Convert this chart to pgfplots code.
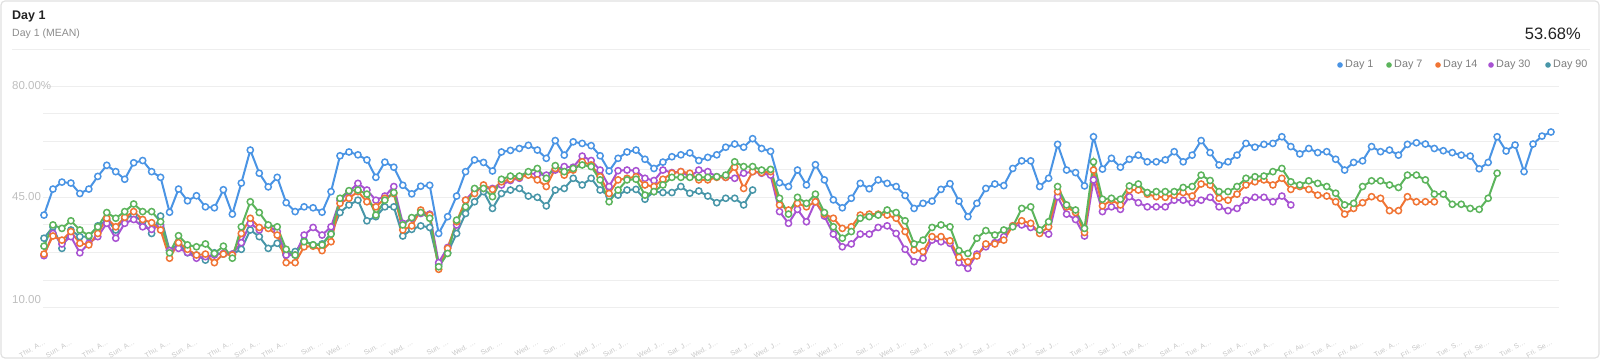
\documentclass[border=0pt]{standalone}
\usepackage{fontspec}
\setmainfont{Liberation Sans}
\usepackage{pgfplots}
\pgfplotsset{compat=1.18}
\usepackage{pgfplotstable}
\definecolor{cA}{RGB}{74,148,228}
\definecolor{cB}{RGB}{92,180,92}
\definecolor{cC}{RGB}{240,116,52}
\definecolor{cD}{RGB}{168,82,210}
\definecolor{cE}{RGB}{72,150,168}
\definecolor{gridc}{RGB}{238,238,238}
\definecolor{labc}{RGB}{190,190,190}
\definecolor{xlabc}{RGB}{198,198,198}
\definecolor{legc}{RGB}{125,125,125}
\definecolor{titc}{RGB}{34,34,34}
\definecolor{subc}{RGB}{140,140,140}
\definecolor{borderc}{RGB}{225,225,225}

\pgfplotstableread[row sep=\\]{v\\39.3\\47.5\\49.7\\49.4\\46.1\\47.5\\51.5\\55.0\\53.0\\50.6\\55.8\\56.5\\53.0\\51.2\\40.2\\47.5\\43.8\\45.4\\41.9\\41.6\\47.3\\39.6\\49.4\\59.8\\52.5\\48.2\\51.2\\43.2\\40.4\\41.9\\41.6\\40.2\\46.7\\58.0\\59.2\\58.3\\56.7\\51.2\\56.0\\54.4\\48.7\\46.0\\48.4\\48.7\\33.5\\38.8\\45.3\\53.0\\56.7\\55.9\\53.2\\59.2\\59.7\\60.3\\61.3\\59.8\\57.2\\62.8\\58.2\\62.4\\61.9\\61.2\\58.0\\53.2\\57.2\\59.2\\59.8\\56.9\\54.0\\56.0\\57.7\\58.3\\58.9\\56.5\\57.5\\58.3\\60.7\\61.7\\60.7\\63.4\\60.3\\59.4\\49.5\\48.3\\53.5\\48.8\\55.2\\50.4\\44.1\\41.6\\44.6\\49.3\\47.6\\50.4\\49.3\\48.3\\45.5\\41.4\\43.0\\43.7\\47.4\\49.2\\43.7\\38.8\\43.0\\47.7\\49.1\\48.6\\54.0\\56.4\\56.4\\48.3\\50.9\\61.6\\53.5\\52.7\\48.5\\64.0\\53.8\\57.2\\54.4\\56.9\\58.2\\56.1\\56.1\\56.7\\59.3\\56.1\\58.2\\62.8\\59.0\\55.1\\56.1\\58.2\\61.9\\60.7\\61.6\\61.9\\64.0\\60.9\\58.6\\60.3\\59.0\\59.3\\56.9\\53.5\\55.9\\56.4\\60.9\\59.3\\59.8\\58.2\\61.6\\62.1\\61.7\\60.3\\59.6\\59.0\\58.2\\57.9\\53.9\\55.9\\64.0\\59.5\\61.4\\53.0\\61.7\\64.2\\65.5\\}\dayA

\pgfplotstableread[row sep=\\]{v\\29.5\\36.2\\35.1\\37.5\\34.6\\32.8\\35.6\\40.1\\38.3\\40.4\\42.8\\40.4\\40.4\\37.2\\27.4\\32.8\\29.9\\29.3\\30.2\\27.2\\29.5\\25.7\\35.6\\43.5\\40.1\\36.2\\35.6\\28.5\\26.7\\30.9\\29.9\\29.9\\33.3\\44.6\\47.0\\47.2\\45.9\\39.3\\44.0\\46.4\\36.2\\38.5\\40.1\\38.3\\23.0\\27.2\\37.7\\41.9\\47.7\\47.7\\45.1\\50.6\\51.6\\51.6\\53.0\\54.0\\50.9\\54.9\\53.0\\54.0\\55.1\\54.6\\50.4\\43.5\\47.2\\50.4\\50.6\\45.6\\46.7\\48.8\\51.2\\51.2\\51.2\\51.2\\51.2\\51.4\\51.9\\56.1\\54.6\\54.6\\53.5\\53.7\\44.6\\39.6\\44.9\\43.0\\45.9\\40.1\\35.6\\32.0\\34.1\\38.3\\38.8\\39.3\\40.9\\40.1\\37.5\\30.2\\31.4\\35.4\\36.2\\35.6\\28.1\\27.2\\32.0\\34.4\\33.0\\34.6\\35.6\\41.4\\41.9\\34.6\\37.2\\48.3\\42.5\\40.9\\35.1\\56.1\\44.3\\44.6\\44.3\\48.5\\49.1\\46.4\\46.7\\46.7\\46.7\\48.0\\48.3\\51.9\\50.2\\46.7\\46.7\\48.3\\50.9\\51.4\\51.6\\53.0\\54.0\\49.8\\48.8\\50.1\\49.3\\48.3\\46.2\\42.5\\43.0\\48.3\\50.1\\50.1\\48.8\\48.0\\51.9\\51.9\\50.4\\45.9\\45.9\\42.7\\42.7\\41.4\\41.1\\44.6\\52.5\\}\dayB

\pgfplotstableread[row sep=\\]{v\\27.0\\32.7\\31.4\\34.1\\30.4\\29.9\\33.5\\38.3\\35.6\\38.6\\40.4\\37.9\\36.9\\34.6\\25.7\\30.6\\28.5\\26.7\\27.0\\24.3\\27.0\\26.7\\33.5\\38.3\\35.4\\35.1\\33.0\\24.3\\24.3\\29.3\\29.5\\28.1\\30.9\\43.0\\44.6\\46.7\\43.5\\41.9\\44.6\\46.1\\34.6\\35.9\\40.9\\39.3\\22.2\\28.8\\37.2\\44.0\\46.1\\48.8\\47.4\\49.8\\50.6\\51.2\\51.9\\50.4\\48.3\\54.0\\51.9\\53.5\\56.1\\55.1\\51.4\\46.1\\50.4\\50.9\\51.4\\48.8\\48.3\\50.6\\52.5\\53.0\\52.5\\50.4\\50.4\\51.2\\51.2\\54.4\\47.7\\53.0\\52.7\\53.0\\42.5\\40.9\\43.0\\41.9\\43.5\\39.6\\38.3\\35.1\\35.6\\39.3\\39.6\\39.6\\39.3\\38.3\\34.1\\28.3\\27.8\\32.5\\32.5\\31.2\\26.0\\24.6\\26.4\\30.2\\30.2\\31.4\\35.9\\37.5\\36.7\\33.5\\35.6\\46.7\\41.9\\40.1\\33.8\\53.5\\42.2\\44.0\\42.5\\47.2\\47.2\\45.9\\45.1\\44.9\\45.6\\46.4\\45.3\\49.1\\48.8\\44.6\\44.0\\45.9\\48.8\\49.8\\50.4\\48.8\\50.9\\47.4\\48.3\\47.4\\45.6\\45.3\\43.5\\39.6\\41.4\\43.2\\45.1\\44.6\\40.7\\40.7\\45.1\\43.5\\43.5\\43.5\\}\dayC

\pgfplotstableread[row sep=\\]{v\\26.5\\33.5\\30.2\\32.5\\27.4\\30.4\\32.5\\36.7\\32.0\\36.7\\37.9\\35.6\\34.8\\36.2\\28.1\\28.8\\27.5\\25.7\\26.2\\26.7\\27.2\\27.0\\30.6\\36.7\\34.6\\35.9\\34.1\\26.7\\26.7\\33.0\\35.4\\33.0\\35.6\\44.0\\46.7\\49.3\\47.2\\44.0\\45.3\\48.3\\36.7\\38.3\\39.8\\39.6\\24.3\\29.1\\36.2\\44.0\\47.2\\47.7\\47.7\\48.8\\50.2\\50.9\\52.5\\52.2\\51.9\\53.5\\54.6\\54.4\\57.9\\56.5\\53.5\\48.3\\53.3\\53.5\\53.3\\50.9\\50.2\\53.5\\52.7\\53.0\\51.4\\53.5\\53.0\\51.4\\51.2\\50.9\\52.5\\53.0\\52.5\\51.9\\40.4\\36.7\\41.1\\37.2\\43.5\\39.0\\33.3\\29.3\\30.2\\33.3\\33.3\\35.4\\35.9\\33.5\\28.5\\24.6\\25.7\\31.4\\30.9\\30.4\\24.3\\22.5\\27.0\\29.3\\30.6\\32.5\\35.9\\36.2\\35.4\\34.1\\33.3\\45.1\\39.6\\37.9\\32.7\\50.4\\40.4\\41.9\\41.1\\45.1\\43.2\\41.9\\41.9\\41.9\\44.0\\44.0\\43.2\\44.0\\44.9\\41.9\\40.7\\41.4\\44.0\\44.9\\44.9\\43.5\\45.3\\42.5\\}\dayD

\pgfplotstableread[row sep=\\]{v\\32.0\\35.6\\28.8\\34.6\\32.5\\32.5\\35.9\\37.7\\34.6\\38.3\\39.3\\37.2\\33.5\\39.0\\28.1\\30.2\\27.4\\26.7\\25.1\\27.4\\27.0\\27.0\\28.5\\34.6\\32.5\\28.8\\30.4\\26.7\\27.8\\31.2\\29.9\\30.2\\33.5\\40.1\\42.5\\44.0\\37.5\\38.8\\41.9\\41.9\\32.7\\34.8\\35.9\\35.4\\23.6\\27.4\\33.5\\39.8\\43.5\\46.7\\41.4\\46.1\\47.2\\47.7\\45.3\\44.9\\42.2\\47.2\\47.7\\50.9\\48.8\\50.9\\47.2\\45.3\\45.6\\47.2\\47.4\\44.3\\46.7\\46.4\\46.4\\48.3\\46.2\\46.9\\45.3\\43.2\\44.6\\44.6\\42.5\\47.2\\}\dayE

\pgfplotsset{ser/.style={line width=2pt, mark=*, mark size=3.1pt, mark options={fill=white, line width=1.5pt, solid}}}

\begin{document}
\begin{tikzpicture}[x=1pt,y=1pt]
\path (0,0) rectangle (1600,359);
\draw[borderc, line width=1.2pt, rounded corners=4pt] (1,1) rectangle (1599,358);
\node[anchor=west, text=titc, font=\fontsize{12.5}{14}\selectfont\bfseries, inner sep=0pt] at (12,342) {Day 1};
\node[anchor=west, text=subc, font=\fontsize{10.5}{12}\selectfont, inner sep=0pt] at (12,325) {Day 1 (MEAN)};
\node[anchor=east, text=titc, font=\fontsize{16.5}{18}\selectfont, inner sep=0pt] at (1581,325) {53.68\%};
\draw[gridc, line width=1pt] (12,309.5) -- (1590,309.5);
\foreach \px/\lab/\col in {1340/Day 1/cA, 1389/Day 7/cB, 1438/Day 14/cC, 1491/Day 30/cD, 1548/Day 90/cE}{
  \fill[\col] (\px,294) circle (2.8pt);
  \node[anchor=west, text=legc, font=\fontsize{10.8}{12}\selectfont, inner sep=0pt] at (\px+5,294) {\lab};
}
\begin{axis}[
  at={(43pt,19.3pt)}, anchor=south west,
  scale only axis, x=8.97pt, y=3.171pt,
  xmin=-0.11, xmax=168.9, ymin=0, ymax=82,
  axis line style={draw=none}, tick style={draw=none},
  ytick={45,80}, yticklabels={45.00,80.00\%},
  extra y ticks={10}, extra y tick labels={10.00},
  extra y tick style={grid=major, yticklabel style={yshift=8.5pt}},
  minor ytick={18.75,27.5,36.25,53.75,62.5,71.25},
  ymajorgrids, yminorgrids,
  major grid style={gridc, line width=1pt},
  minor grid style={gridc, line width=1pt},
  yticklabel style={anchor=west, xshift=-31pt, inner sep=0pt, font=\fontsize{11.5}{12}\selectfont, text=labc},
  xtick={0,3,7,10,14,17,21,24,27,31,34,38,41,45,48,51,55,58,62,65,69,72,75,79,82,86,89,93,96,99,103,106,110,113,117,120,123,127,130,134,137,141,144,147,151,154,158,161,165,168},
  xticklabels={{Thu. A…},{Sun. A…},{Thu. A…},{Sun. A…},{Thu. A…},{Sun. A…},{Thu. A…},{Sun. A…},{Thu. A…},{Sun. …},{Wed. …},{Sun. …},{Wed. …},{Sun. …},{Wed. …},{Sun. …},{Wed. …},{Sun. …},{Wed. J…},{Sun. J…},{Wed. J…},{Sat. J…},{Wed. J…},{Sat. J…},{Wed. J…},{Sat. J…},{Wed. J…},{Sat. J…},{Wed. J…},{Sat. J…},{Tue. J…},{Sat. J…},{Tue. J…},{Sat. J…},{Tue. J…},{Sat. J…},{Tue. A…},{Sat. A…},{Tue. A…},{Sat. A…},{Tue. A…},{Fri. Au…},{Tue. A…},{Fri. Au…},{Tue. A…},{Fri. Se…},{Tue. S…},{Fri. Se…},{Tue. S…},{Fri. Se…}},
  xticklabel style={rotate=30, anchor=east, inner sep=0.5pt, yshift=-2pt, font=\fontsize{7}{8}\selectfont, text=xlabc},
  clip=false,
]
\addplot[ser, cE] table[x expr=\coordindex, y=v] {\dayE};
\addplot[ser, cD] table[x expr=\coordindex, y=v] {\dayD};
\addplot[ser, cC] table[x expr=\coordindex, y=v] {\dayC};
\addplot[ser, cB] table[x expr=\coordindex, y=v] {\dayB};
\addplot[ser, cA] table[x expr=\coordindex, y=v] {\dayA};
\end{axis}
\end{tikzpicture}
\end{document}
